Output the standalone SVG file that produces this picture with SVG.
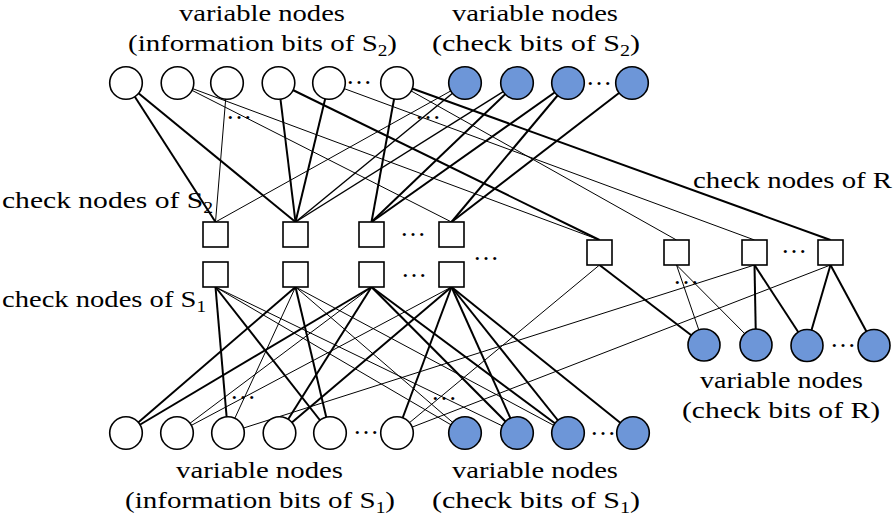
<svg xmlns="http://www.w3.org/2000/svg" width="894" height="521" viewBox="0 0 894 521">
<style>
.bg{fill:#ffffff}
.thick{stroke:#000;stroke-width:2;fill:none}
.mid{stroke:#000;stroke-width:1.4;fill:none}
.thin{stroke:#000;stroke-width:1;fill:none}
.vn{fill:#ffffff;stroke:#000;stroke-width:1.6}
.vb{fill:#6d96d8;stroke:#000;stroke-width:1.6}
.cn{fill:#ffffff;stroke:#000;stroke-width:1.6}
.lbl{font-family:"Liberation Serif","Times New Roman",serif;font-size:24px;fill:#000}
.dots{font-family:"Liberation Serif","Times New Roman",serif;font-size:26px;fill:#000}
</style>
<rect class="bg" x="0" y="0" width="894" height="521"/>
<g id="connectors">
<line class="thick" x1="126" y1="83" x2="215.5" y2="222"/>
<line class="thick" x1="126" y1="83" x2="295.5" y2="222"/>
<line class="thin" x1="177.5" y1="83" x2="599.5" y2="240"/>
<line class="thin" x1="177.5" y1="83" x2="451.5" y2="222"/>
<line class="thin" x1="227" y1="83" x2="215.5" y2="222"/>
<line class="thick" x1="278.5" y1="83" x2="295.5" y2="222"/>
<line class="thick" x1="278.5" y1="83" x2="599.5" y2="240"/>
<line class="thick" x1="329" y1="83" x2="295.5" y2="222"/>
<line class="thin" x1="329" y1="83" x2="754.5" y2="240"/>
<line class="thick" x1="397" y1="83" x2="371.5" y2="222"/>
<line class="thick" x1="397" y1="83" x2="830.5" y2="240"/>
<line class="thin" x1="397" y1="83" x2="676.5" y2="240"/>
<line class="thin" x1="465" y1="83" x2="215.5" y2="222"/>
<line class="mid" x1="465" y1="83" x2="295.5" y2="222"/>
<line class="mid" x1="517" y1="83" x2="295.5" y2="222"/>
<line class="thick" x1="517" y1="83" x2="371.5" y2="222"/>
<line class="thick" x1="568" y1="83" x2="371.5" y2="222"/>
<line class="thick" x1="568" y1="83" x2="451.5" y2="222"/>
<line class="thick" x1="632" y1="83" x2="451.5" y2="222"/>
<line class="thick" x1="215.5" y1="287" x2="228" y2="433"/>
<line class="thick" x1="215.5" y1="287" x2="330" y2="433"/>
<line class="thin" x1="215.5" y1="287" x2="465" y2="433"/>
<line class="thin" x1="215.5" y1="287" x2="517" y2="433"/>
<line class="thick" x1="295.5" y1="287" x2="126" y2="433"/>
<line class="thin" x1="295.5" y1="287" x2="228" y2="433"/>
<line class="thick" x1="295.5" y1="287" x2="330" y2="433"/>
<line class="thin" x1="295.5" y1="287" x2="465" y2="433"/>
<line class="thin" x1="295.5" y1="287" x2="568" y2="433"/>
<line class="thick" x1="371.5" y1="287" x2="126" y2="433"/>
<line class="thin" x1="371.5" y1="287" x2="177" y2="433"/>
<line class="thick" x1="371.5" y1="287" x2="279.5" y2="433"/>
<line class="thick" x1="371.5" y1="287" x2="517" y2="433"/>
<line class="thick" x1="371.5" y1="287" x2="568" y2="433"/>
<line class="thin" x1="451.5" y1="287" x2="177" y2="433"/>
<line class="thick" x1="451.5" y1="287" x2="279.5" y2="433"/>
<line class="thick" x1="451.5" y1="287" x2="397" y2="433"/>
<line class="thick" x1="451.5" y1="287" x2="517" y2="433"/>
<line class="thick" x1="451.5" y1="287" x2="568" y2="433"/>
<line class="thick" x1="451.5" y1="287" x2="633" y2="433"/>
<line class="thin" x1="599.5" y1="265" x2="397" y2="433"/>
<line class="thick" x1="599.5" y1="265" x2="704" y2="345"/>
<line class="thin" x1="676.5" y1="265" x2="704" y2="345"/>
<line class="thin" x1="676.5" y1="265" x2="756" y2="345"/>
<line class="thin" x1="754.5" y1="265" x2="228" y2="433"/>
<line class="thick" x1="754.5" y1="265" x2="756" y2="345"/>
<line class="thick" x1="754.5" y1="265" x2="807" y2="345.5"/>
<line class="thin" x1="830.5" y1="265" x2="397" y2="433"/>
<line class="thick" x1="830.5" y1="265" x2="807" y2="345.5"/>
<line class="thick" x1="830.5" y1="265" x2="874" y2="345.5"/>
</g>
<g id="var-top-info">
<circle id="t1" class="vn" cx="126" cy="83" r="16.3"/>
<circle id="t2" class="vn" cx="177.5" cy="83" r="16.3"/>
<circle id="t3" class="vn" cx="227" cy="83" r="16.3"/>
<circle id="t4" class="vn" cx="278.5" cy="83" r="16.3"/>
<circle id="t5" class="vn" cx="329" cy="83" r="16.3"/>
<circle id="t6" class="vn" cx="397" cy="83" r="16.3"/>
</g>
<g id="var-top-check">
<circle id="b1" class="vb" cx="465" cy="83" r="16.3"/>
<circle id="b2" class="vb" cx="517" cy="83" r="16.3"/>
<circle id="b3" class="vb" cx="568" cy="83" r="16.3"/>
<circle id="b4" class="vb" cx="632" cy="83" r="16.3"/>
</g>
<g id="check-s2">
<rect id="c1" class="cn" x="203" y="222" width="25" height="25"/>
<rect id="c2" class="cn" x="283" y="222" width="25" height="25"/>
<rect id="c3" class="cn" x="359" y="222" width="25" height="25"/>
<rect id="c4" class="cn" x="439" y="222" width="25" height="25"/>
</g>
<g id="check-s1">
<rect id="d1" class="cn" x="203" y="262" width="25" height="25"/>
<rect id="d2" class="cn" x="283" y="262" width="25" height="25"/>
<rect id="d3" class="cn" x="359" y="262" width="25" height="25"/>
<rect id="d4" class="cn" x="439" y="262" width="25" height="25"/>
</g>
<g id="check-r">
<rect id="r1" class="cn" x="587" y="240" width="25" height="25"/>
<rect id="r2" class="cn" x="664" y="240" width="25" height="25"/>
<rect id="r3" class="cn" x="742" y="240" width="25" height="25"/>
<rect id="r4" class="cn" x="818" y="240" width="25" height="25"/>
</g>
<g id="var-r-check">
<circle id="x1" class="vb" cx="704" cy="345" r="16"/>
<circle id="x2" class="vb" cx="756" cy="345" r="16"/>
<circle id="x3" class="vb" cx="807" cy="345.5" r="16"/>
<circle id="x4" class="vb" cx="874" cy="345.5" r="16"/>
</g>
<g id="var-bottom-info">
<circle id="v1" class="vn" cx="126" cy="433" r="16.3"/>
<circle id="v2" class="vn" cx="177" cy="433" r="16.3"/>
<circle id="v3" class="vn" cx="228" cy="433" r="16.3"/>
<circle id="v4" class="vn" cx="279.5" cy="433" r="16.3"/>
<circle id="v5" class="vn" cx="330" cy="433" r="16.3"/>
<circle id="v6" class="vn" cx="397" cy="433" r="16.3"/>
</g>
<g id="var-bottom-check">
<circle id="w1" class="vb" cx="465" cy="433" r="16.3"/>
<circle id="w2" class="vb" cx="517" cy="433" r="16.3"/>
<circle id="w3" class="vb" cx="568" cy="433" r="16.3"/>
<circle id="w4" class="vb" cx="633" cy="433" r="16.3"/>
</g>
<g id="ellipses">
<text class="dots" x="346" y="84">…</text>
<text class="dots" x="586" y="85">…</text>
<text class="dots" x="226" y="119">…</text>
<text class="dots" x="415" y="119">…</text>
<text class="dots" x="400" y="236">…</text>
<text class="dots" x="401" y="277">…</text>
<text class="dots" x="473" y="260">…</text>
<text class="dots" x="781" y="253">…</text>
<text class="dots" x="673" y="284">…</text>
<text class="dots" x="830" y="347">…</text>
<text class="dots" x="353" y="434">…</text>
<text class="dots" x="590" y="435">…</text>
<text class="dots" x="230" y="399">…</text>
<text class="dots" x="431" y="400">…</text>
</g>
<g id="labels">
<text class="lbl" x="179" y="21" textLength="166" lengthAdjust="spacingAndGlyphs">variable nodes</text>
<text class="lbl" x="128" y="51" textLength="269" lengthAdjust="spacingAndGlyphs">(information bits of S<tspan font-size="16" dy="5">2</tspan><tspan dy="-5">)</tspan></text>
<text class="lbl" x="452" y="21" textLength="166" lengthAdjust="spacingAndGlyphs">variable nodes</text>
<text class="lbl" x="432" y="51" textLength="208" lengthAdjust="spacingAndGlyphs">(check bits of S<tspan font-size="16" dy="5">2</tspan><tspan dy="-5">)</tspan></text>
<text class="lbl" x="2" y="208" textLength="211" lengthAdjust="spacingAndGlyphs">check nodes of S<tspan font-size="16" dy="5">2</tspan></text>
<text class="lbl" x="2" y="307" textLength="204" lengthAdjust="spacingAndGlyphs">check nodes of S<tspan font-size="16" dy="5">1</tspan></text>
<text class="lbl" x="693" y="188" textLength="199" lengthAdjust="spacingAndGlyphs">check nodes of R</text>
<text class="lbl" x="700" y="388" textLength="163" lengthAdjust="spacingAndGlyphs">variable nodes</text>
<text class="lbl" x="682" y="418" textLength="198" lengthAdjust="spacingAndGlyphs">(check bits of R)</text>
<text class="lbl" x="176" y="478" textLength="167" lengthAdjust="spacingAndGlyphs">variable nodes</text>
<text class="lbl" x="125" y="508" textLength="270" lengthAdjust="spacingAndGlyphs">(information bits of S<tspan font-size="16" dy="5">1</tspan><tspan dy="-5">)</tspan></text>
<text class="lbl" x="452" y="478" textLength="166" lengthAdjust="spacingAndGlyphs">variable nodes</text>
<text class="lbl" x="432" y="508" textLength="208" lengthAdjust="spacingAndGlyphs">(check bits of S<tspan font-size="16" dy="5">1</tspan><tspan dy="-5">)</tspan></text>
</g>
</svg>
